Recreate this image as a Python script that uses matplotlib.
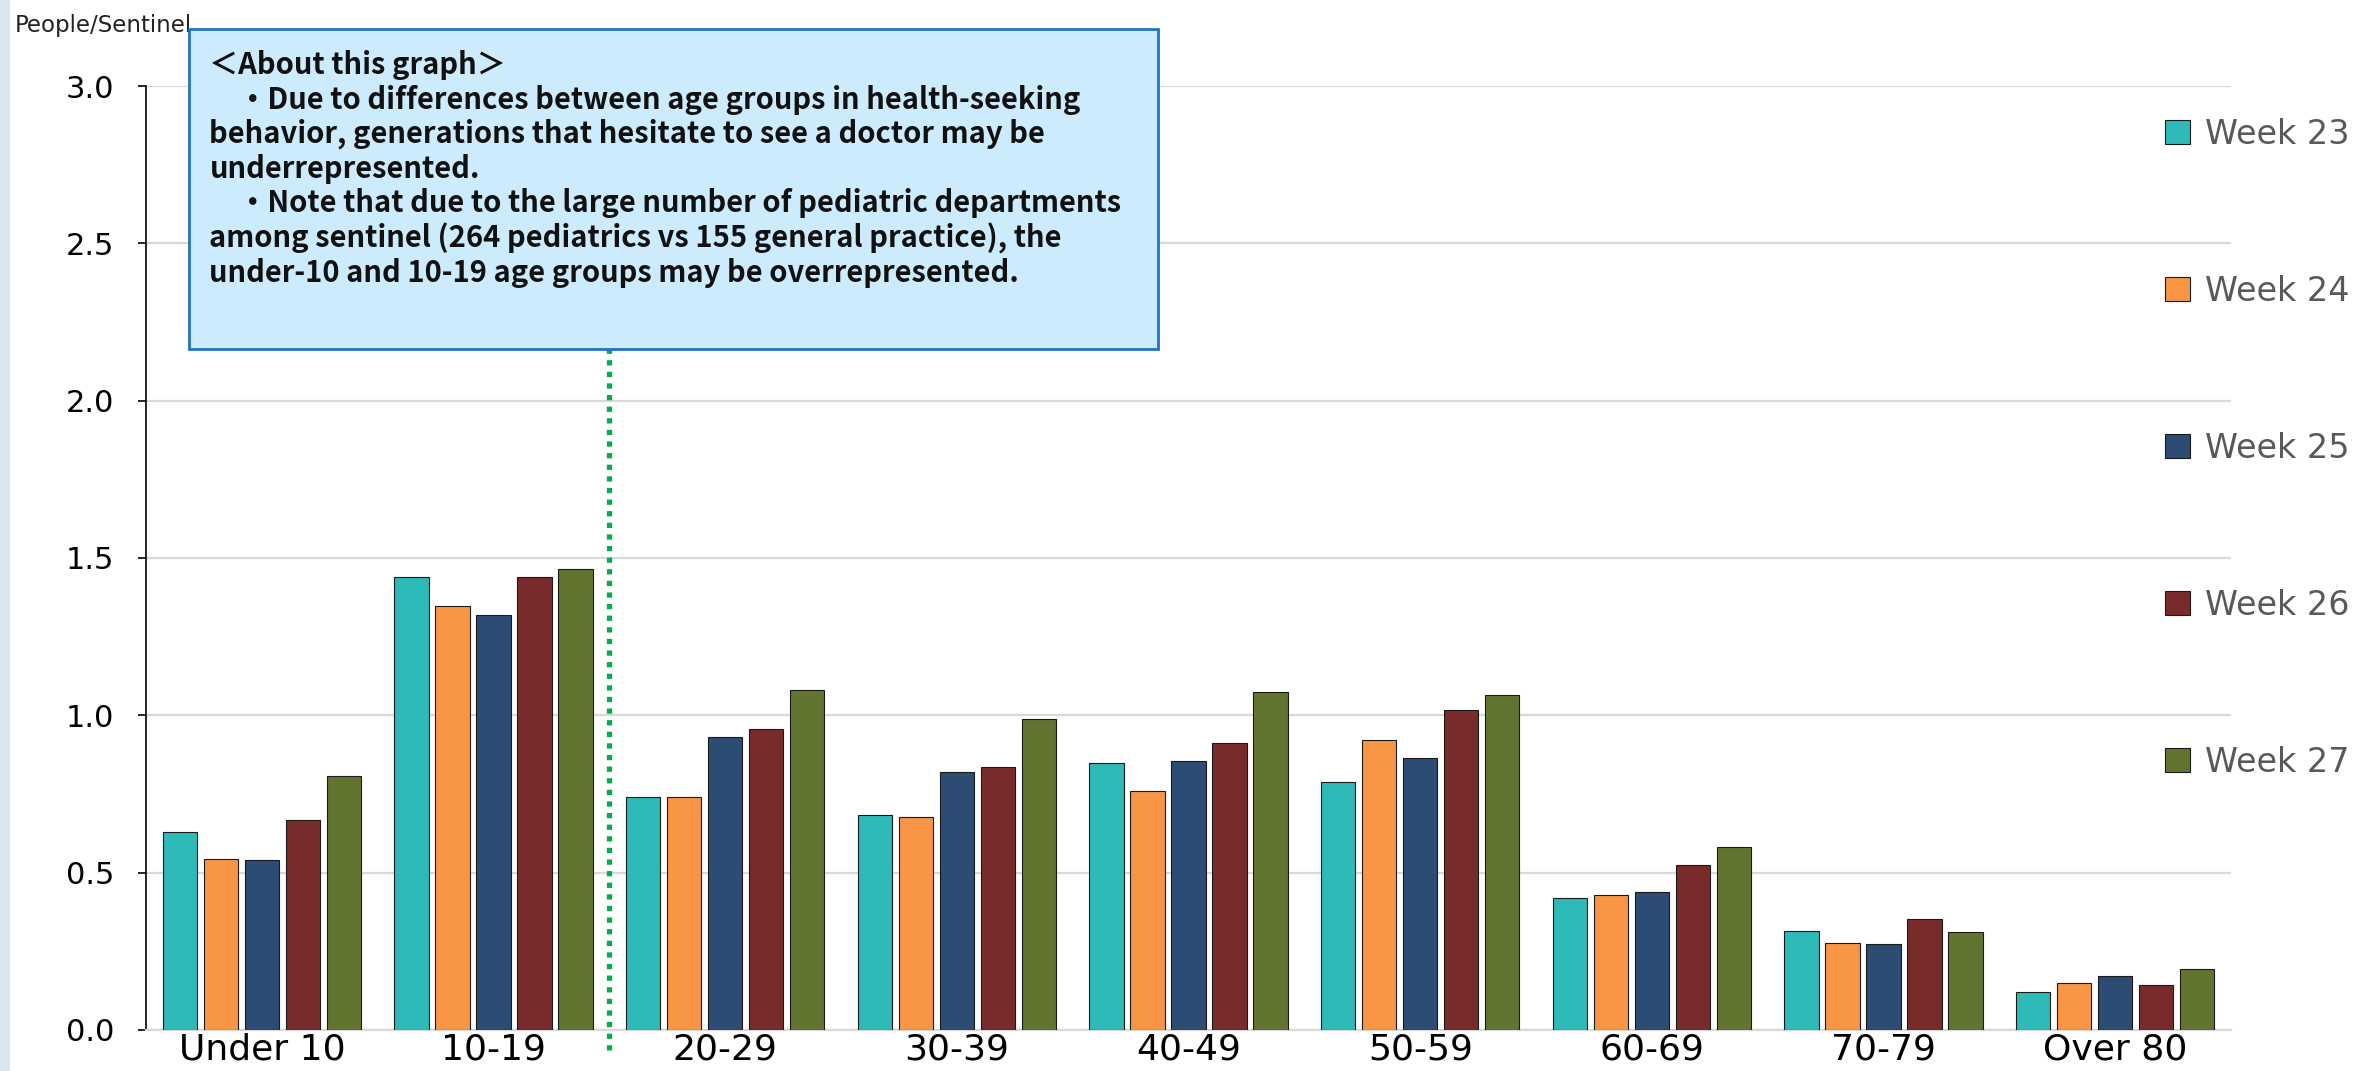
import numpy as np
import matplotlib
matplotlib.use("Agg")
import matplotlib.pyplot as plt
from matplotlib.patches import Rectangle, Patch

# --- data ---
age_groups = ['Under 10', '10-19', '20-29', '30-39', '40-49', '50-59', '60-69', '70-79', 'Over 80']
week_labels = ['Week 23', 'Week 24', 'Week 25', 'Week 26', 'Week 27']
week23 = [0.629, 1.440, 0.739, 0.682, 0.850, 0.787, 0.418, 0.316, 0.122]
week24 = [0.542, 1.349, 0.739, 0.677, 0.758, 0.922, 0.429, 0.276, 0.148]
week25 = [0.539, 1.320, 0.931, 0.821, 0.855, 0.864, 0.438, 0.272, 0.171]
week26 = [0.667, 1.440, 0.955, 0.835, 0.912, 1.018, 0.525, 0.354, 0.142]
week27 = [0.807, 1.464, 1.080, 0.989, 1.075, 1.066, 0.581, 0.311, 0.195]
series = [week23, week24, week25, week26, week27]
colors = ['#2EBAB8', '#F89646', '#2C4C74', '#782B2B', '#617430']

note_lines = [
    '＜About this graph＞',
    '　・Due to differences between age groups in health-seeking',
    'behavior, generations that hesitate to see a doctor may be',
    'underrepresented.',
    '　・Note that due to the large number of pediatric departments',
    'among sentinel (264 pediatrics vs 155 general practice), the',
    'under-10 and 10-19 age groups may be overrepresented.',
]

narrow = ['Liberation Sans Narrow', 'DejaVu Sans']

fig = plt.figure(figsize=(23.67, 10.71), dpi=100)
ax = fig.add_axes([0.0617, 0.0383, 0.8809, 0.8814])

# light blue strip at the left edge
fig.patches.append(Rectangle((0, 0), 0.0042, 1, transform=fig.transFigure,
                             facecolor='#DCE6F2', edgecolor='none', zorder=0))

x = np.arange(len(age_groups))
slot = 0.177
width = 0.148
for i, (vals, col, lab) in enumerate(zip(series, colors, week_labels)):
    offs = (i - 2) * slot
    ax.bar(x + offs, vals, width=width, color=col, edgecolor='#1a1a1a',
           linewidth=0.8, label=lab, zorder=3)

ax.set_xlim(-0.5, len(age_groups) - 0.5)
ax.set_ylim(0, 3.0)
ax.set_yticks(np.arange(0, 3.01, 0.5))
ax.set_yticklabels([f'{v:.1f}' for v in np.arange(0, 3.01, 0.5)],
                   family=narrow, fontsize=22)
ax.set_xticks(x)
ax.set_xticklabels(age_groups, family=narrow, fontsize=26)
ax.tick_params(axis='x', length=0, pad=2)
ax.tick_params(axis='y', direction='out', length=6, width=1.2, pad=17, colors='black')
ax.grid(axis='y', color='#D9D9D9', linewidth=1.6, zorder=0)
ax.set_axisbelow(True)
for s in ['top', 'right']:
    ax.spines[s].set_visible(False)
ax.spines['left'].set_color('black')
ax.spines['left'].set_linewidth(1.2)
ax.spines['bottom'].set_color('#D9D9D9')
ax.spines['bottom'].set_linewidth(1.6)

# unit label at the top left
fig.text(0.0063, 0.987, 'People/Sentinel', family=narrow, fontsize=16.5,
         ha='left', va='top', color='#222222')

# green dotted divider between 10-19 and 20-29
ax.plot([1.5, 1.5], [-0.065, 2.17], color='#00B050', linestyle=(0, (1, 1.2)),
        linewidth=3.8, clip_on=False, zorder=4)

# note box
fig.patches.append(Rectangle((0.0798, 0.674), 0.4094, 0.2988, transform=fig.transFigure,
                             facecolor='#CCEBFC', edgecolor='#1F74C4', linewidth=2, zorder=5))
fig.text(0.0885, 0.953, '\n'.join(note_lines), family=['Noto Sans CJK JP', 'DejaVu Sans'],
         fontsize=21, fontweight='bold', ha='left', va='top', color='#111111',
         linespacing=1.18, zorder=6)

# legend on the right
handles = [Patch(facecolor=c, edgecolor='#1a1a1a', linewidth=0.8) for c in colors]
fig.legend(handles, week_labels, loc='upper left', bbox_to_anchor=(0.902, 0.918),
           frameon=False, fontsize=24, labelcolor='#595959', labelspacing=3.72,
           handlelength=0.75, handleheight=0.75, handletextpad=0.45)

fig.savefig('out.png', dpi=100)
